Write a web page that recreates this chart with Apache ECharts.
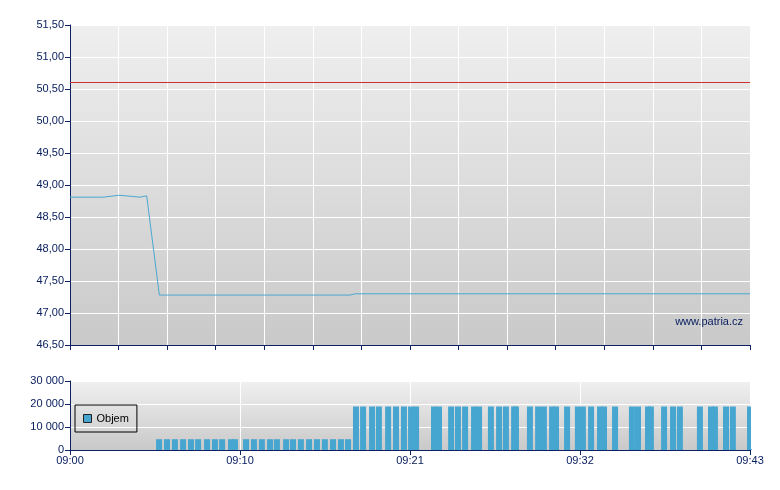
<!DOCTYPE html>
<html><head><meta charset="utf-8">
<script src="https://cdn.jsdelivr.net/npm/echarts@6/dist/echarts.min.js"></script>
<style>html,body{margin:0;padding:0;background:#fff}#c{width:780px;height:490px}</style>
</head><body><div id="c"></div>
<script>
// time in seconds since 09:00
const timeLabels = ['09:00', '09:10', '09:21', '09:32', '09:43'];
const sessionSeconds = 2580;
const priceTimes  = [0, 126, 187, 266, 291, 339, 1062, 1081, 2580];
const priceValues = [48.81, 48.81, 48.84, 48.81, 48.83, 47.28, 47.28, 47.30, 47.30];
const referencePrice = 50.60;
const volumeTimes = [
  338, 368, 398, 429, 459, 486, 520, 550, 577, 611, 626, 668, 698, 728, 759, 785, 820, 846, 876, 907, 937, 967, 998, 1028, 1055,
  1085, 1112, 1146, 1172, 1207, 1237, 1267, 1294, 1313, 1381, 1400, 1446, 1472, 1499, 1533, 1552, 1597, 1628, 1654, 1685, 1692,
  1745, 1776, 1798, 1829, 1844, 1886, 1927, 1946, 1977, 2011, 2026, 2068, 2132, 2155, 2193, 2204, 2254, 2288, 2314, 2390, 2432,
  2447, 2489, 2515, 2580
];
const volumeValues = [
  4700, 4700, 4700, 4700, 4700, 4700, 4700, 4700, 4700, 4700, 4700, 4700, 4700, 4700, 4700, 4700, 4700, 4700, 4700, 4700, 4700, 4700, 4700, 4700, 4700,
  18900, 18900, 18900, 18900, 18900, 18900, 18900, 18900, 18900, 18900, 18900, 18900, 18900, 18900, 18900, 18900, 18900, 18900, 18900, 18900, 18900,
  18900, 18900, 18900, 18900, 18900, 18900, 18900, 18900, 18900, 18900, 18900, 18900, 18900, 18900, 18900, 18900, 18900, 18900, 18900, 18900, 18900,
  18900, 18900, 18900, 18900
];
const priceTicks = [46.5, 51.5, 0.5];
const volumeTicks = [0, 30000, 10000];

const navy = '#0b2161';
const font = 'Liberation Sans';
const bg = (a, b) => ({type: 'linear', x: 0, y: 0, x2: 0, y2: 1, colorStops: [{offset: 0, color: a}, {offset: 1, color: b}]});

const chart = echarts.init(document.getElementById('c'));
chart.setOption({
  animation: false,
  backgroundColor: '#fff',
  textStyle: {fontFamily: font},
  grid: [
    {left: 70, right: 30, top: 25, height: 320, show: true, borderWidth: 0, backgroundColor: bg('#efefef', '#c9c9c9')},
    {left: 70, right: 30, top: 381, height: 69, show: true, borderWidth: 0, backgroundColor: bg('#f0f0f0', '#c9c9c9')}
  ],
  legend: {
    data: ['Objem'], left: 75, top: 405, orient: 'horizontal',
    borderColor: '#000', borderWidth: 1, borderRadius: 0, padding: [8, 8, 8, 8],
    itemWidth: 8, itemHeight: 8, icon: 'rect',
    itemStyle: {borderColor: '#222', borderWidth: 1},
    textStyle: {fontSize: 11, color: '#000', fontFamily: font}
  },
  graphic: [
    {type: 'text', right: 37, top: 316, z: 100,
     style: {text: 'www.patria.cz', fill: navy, font: '11px "Liberation Sans"'}},
    {type: 'rect', left: 751, top: 379, z: 100, silent: true,
     shape: {width: 8, height: 70}, style: {fill: '#fff'}}
  ],
  xAxis: [
    {type: 'value', gridIndex: 0, min: 0, max: sessionSeconds, interval: sessionSeconds / 14,
     axisLine: {lineStyle: {color: navy, width: 1}}, axisTick: {length: 5, lineStyle: {color: navy}},
     axisLabel: {show: false}, splitLine: {show: true, lineStyle: {color: '#fff', width: 1}}},
    {type: 'value', gridIndex: 1, min: 0, max: sessionSeconds, interval: sessionSeconds / 4,
     axisLine: {lineStyle: {color: navy, width: 1}}, axisTick: {length: 5, lineStyle: {color: navy}},
     axisLabel: {color: navy, fontSize: 11, margin: 5, fontFamily: font,
       formatter: v => timeLabels[Math.round(v / (sessionSeconds / 4))]},
     splitLine: {show: true, lineStyle: {color: '#fff', width: 1}}}
  ],
  yAxis: [
    {type: 'value', gridIndex: 0, min: priceTicks[0], max: priceTicks[1], interval: priceTicks[2],
     axisLine: {show: true, lineStyle: {color: navy, width: 1}}, axisTick: {show: true, length: 5, lineStyle: {color: navy}},
     axisLabel: {color: navy, fontSize: 11, margin: 6, fontFamily: font, formatter: v => v.toFixed(2).replace('.', ',')},
     splitLine: {lineStyle: {color: '#fff', width: 1}}},
    {type: 'value', gridIndex: 1, min: volumeTicks[0], max: volumeTicks[1], interval: volumeTicks[2],
     axisLine: {show: true, lineStyle: {color: navy, width: 1}}, axisTick: {show: true, length: 5, lineStyle: {color: navy}},
     axisLabel: {color: navy, fontSize: 11, margin: 6, fontFamily: font,
       formatter: v => String(v).replace(/\B(?=(\d{3})+(?!\d))/g, ' ')},
     splitLine: {lineStyle: {color: '#fff', width: 1}}}
  ],
  series: [
    {name: 'Cena', type: 'line', xAxisIndex: 0, yAxisIndex: 0, showSymbol: false, symbol: 'none',
     data: priceTimes.map((t, i) => [t, priceValues[i]]),
     lineStyle: {color: '#4ba7d1', width: 1}, itemStyle: {color: '#4ba7d1'},
     markLine: {silent: true, symbol: 'none', label: {show: false},
       lineStyle: {color: '#c83232', width: 1, type: 'solid'}, data: [{yAxis: referencePrice}]}},
    {name: 'Objem', type: 'bar', xAxisIndex: 1, yAxisIndex: 1, barWidth: 6, clip: true,
     data: volumeTimes.map((t, i) => [t, volumeValues[i]]),
     itemStyle: {color: '#47a6cf'}}
  ]
});
</script></body></html>
